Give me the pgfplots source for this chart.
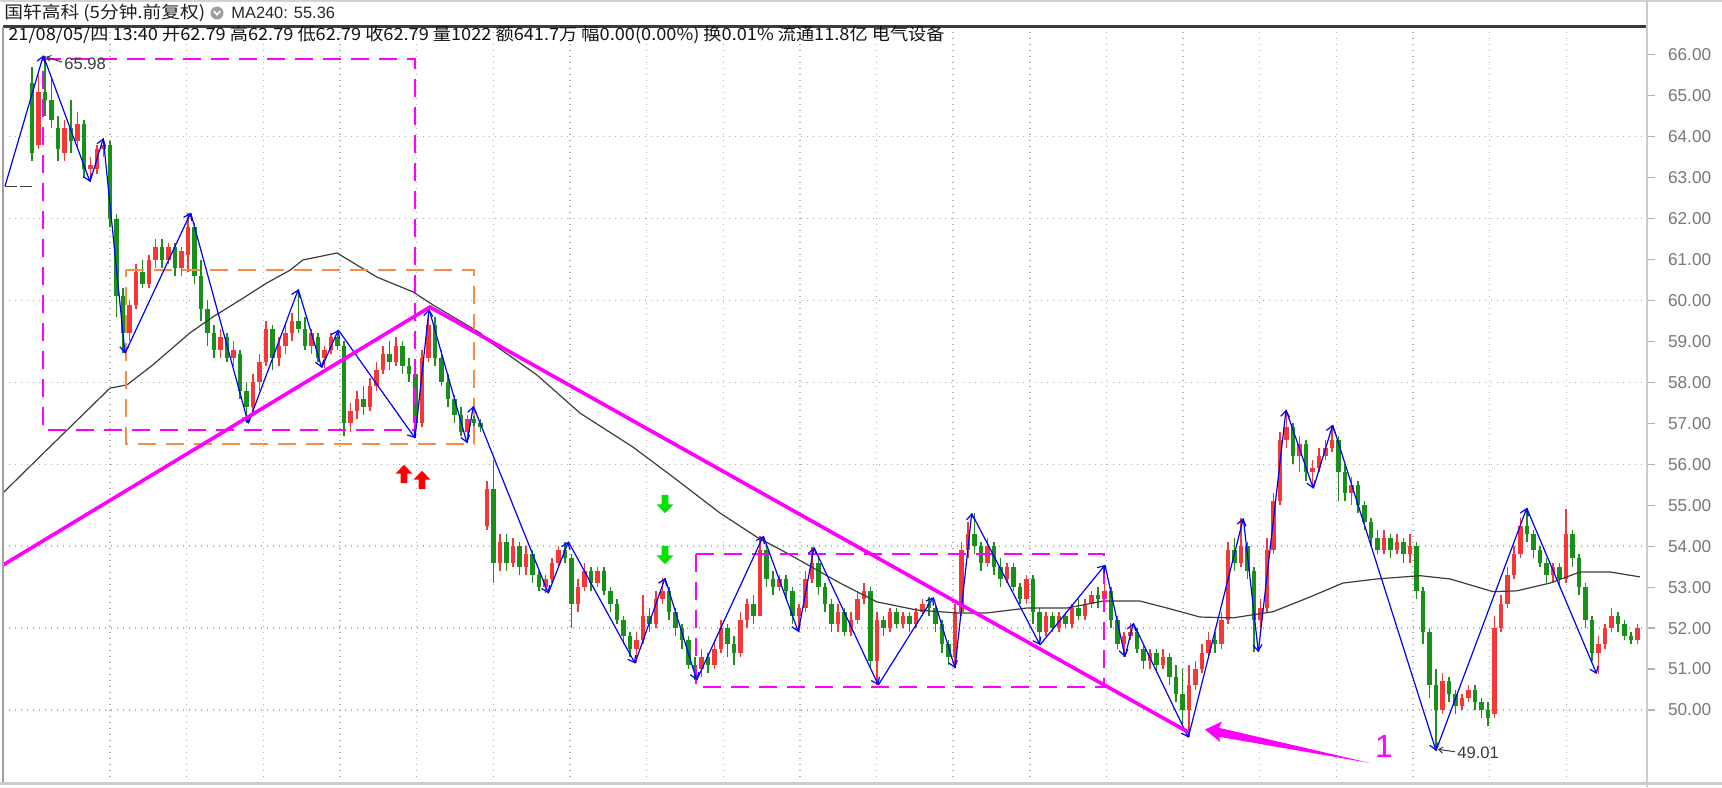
\documentclass[border=0pt]{standalone}
\usepackage{pgfplots}
\pgfplotsset{compat=1.18}
\usepackage{pgfplotstable}
\usetikzlibrary{arrows.meta}
\usepackage{fontspec}
\setmainfont{Liberation Sans}
\newfontfamily\cjk{Noto Sans CJK SC}
\definecolor{cred}{RGB}{245,55,55}
\definecolor{cgreen}{RGB}{25,145,25}
\definecolor{zzblue}{RGB}{0,0,255}
\definecolor{mag}{RGB}{255,0,255}
\definecolor{orng}{RGB}{250,140,70}
\definecolor{gridc}{RGB}{175,175,175}
\definecolor{matc}{RGB}{60,60,60}
\definecolor{sigred}{RGB}{255,0,0}
\definecolor{siggreen}{RGB}{0,225,0}

\pgfdeclareplotmark{uarr}{%
 \pgfpathmoveto{\pgfqpoint{0pt}{4.6pt}}%
 \pgfpathlineto{\pgfqpoint{4.2pt}{0.2pt}}%
 \pgfpathlineto{\pgfqpoint{1.7pt}{0.2pt}}%
 \pgfpathlineto{\pgfqpoint{1.7pt}{-4.6pt}}%
 \pgfpathlineto{\pgfqpoint{-1.7pt}{-4.6pt}}%
 \pgfpathlineto{\pgfqpoint{-1.7pt}{0.2pt}}%
 \pgfpathlineto{\pgfqpoint{-4.2pt}{0.2pt}}%
 \pgfpathclose\pgfusepathqfill}
\pgfdeclareplotmark{darr}{%
 \pgfpathmoveto{\pgfqpoint{0pt}{-4.6pt}}%
 \pgfpathlineto{\pgfqpoint{4.2pt}{-0.2pt}}%
 \pgfpathlineto{\pgfqpoint{1.7pt}{-0.2pt}}%
 \pgfpathlineto{\pgfqpoint{1.7pt}{4.6pt}}%
 \pgfpathlineto{\pgfqpoint{-1.7pt}{4.6pt}}%
 \pgfpathlineto{\pgfqpoint{-1.7pt}{-0.2pt}}%
 \pgfpathlineto{\pgfqpoint{-4.2pt}{-0.2pt}}%
 \pgfpathclose\pgfusepathqfill}

\pgfplotstableread{
o h l c
65.3 65.7 63.4 63.6
63.8 65.5 63.7 65.1
65.1 65.98 64.5 64.9
64.9 65.4 64.2 64.4
64.2 64.5 63.4 63.7
63.6 64.4 63.4 64.2
64.2 64.9 63.6 63.9
63.9 64.6 63.7 64.3
64.3 64.4 63.0 63.2
63.2 63.5 62.90 63.3
63.2 63.8 63.1 63.7
63.7 63.96 63.5 63.8
63.8 63.9 61.8 62.0
62.0 62.1 59.6 60.1
60.1 60.3 58.71 59.2
59.2 60.0 59.0 59.9
59.9 60.9 59.8 60.7
60.7 61.0 60.3 60.4
60.4 61.1 60.3 61.0
61.0 61.5 60.8 61.3
61.3 61.5 60.8 61.0
61.0 61.4 60.9 61.3
61.3 61.4 60.6 60.8
60.8 61.3 60.6 61.2
61.1 62.14 60.7 61.8
61.8 61.9 60.4 60.6
60.6 61.0 59.5 59.8
59.8 60.0 58.9 59.2
59.2 59.4 58.6 58.8
58.8 59.3 58.6 59.1
59.1 59.2 58.5 58.6
58.6 59.0 58.4 58.8
58.7 58.8 57.6 57.8
57.8 58.0 57.00 57.4
57.4 58.2 57.3 58.0
58.0 58.7 57.8 58.5
58.5 59.5 58.4 59.3
59.3 59.4 58.3 58.6
58.6 59.1 58.4 58.9
58.9 59.4 58.7 59.2
59.2 59.7 59.0 59.5
59.5 60.27 59.2 59.3
59.3 59.6 58.8 58.9
58.9 59.3 58.7 59.2
59.1 59.2 58.5 58.6
58.6 58.9 58.36 58.8
58.8 59.2 58.7 59.1
59.1 59.28 58.8 58.9
58.9 59.0 56.7 57.0
57.0 57.5 56.8 57.3
57.3 57.8 57.1 57.6
57.6 57.9 57.2 57.4
57.4 58.1 57.3 57.9
57.9 58.5 57.8 58.3
58.3 58.9 58.2 58.7
58.7 59.0 58.3 58.5
58.5 59.1 58.4 58.9
58.9 59.0 58.2 58.4
58.4 58.6 58.0 58.2
58.2 58.3 56.64 57.0
57.0 58.8 56.9 58.6
58.6 59.79 58.5 59.4
59.4 59.6 58.4 58.6
58.6 58.8 57.9 58.0
58.0 58.2 57.4 57.6
57.6 57.7 57.0 57.2
57.2 57.4 56.7 56.8
56.8 57.2 56.52 57.1
57.1 57.42 56.9 57.0
57.0 57.1 56.8 56.9
54.5 55.6 54.4 55.4
55.4 56.1 53.1 53.6
53.6 54.3 53.4 54.1
54.1 54.3 53.4 53.6
53.6 54.2 53.5 54.0
54.0 54.1 53.3 53.5
53.5 54.0 53.3 53.8
53.8 53.9 53.1 53.3
53.3 53.4 52.9 53.0
53.0 53.3 52.85 53.2
53.2 53.7 53.1 53.6
53.6 54.0 53.5 53.9
53.9 54.11 53.6 53.7
53.7 53.8 52.0 52.6
52.6 53.2 52.4 53.0
53.0 53.6 52.9 53.4
53.4 53.5 52.9 53.1
53.1 53.5 53.0 53.4
53.4 53.5 52.8 52.9
52.9 53.0 52.4 52.6
52.6 52.7 52.1 52.2
52.2 52.3 51.6 51.8
51.8 51.9 51.3 51.5
51.5 51.9 51.14 51.7
51.7 52.8 51.6 52.3
52.3 52.5 51.9 52.1
52.1 52.9 52.0 52.7
52.7 53.22 52.6 52.9
52.9 53.0 52.2 52.4
52.4 52.5 51.8 52.0
52.0 52.1 51.5 51.7
51.7 51.8 51.0 51.1
51.1 51.3 50.73 51.0
51.0 51.5 50.8 51.3
51.3 51.4 50.9 51.1
51.1 51.7 51.0 51.5
51.5 52.2 51.4 52.0
52.0 52.1 51.3 51.6
51.6 51.8 51.1 51.4
51.4 52.4 51.3 52.2
52.2 52.7 52.0 52.6
52.6 52.8 52.1 52.3
52.3 54.25 52.3 53.9
53.9 54.0 53.0 53.2
53.2 53.4 52.8 53.0
53.0 53.3 52.9 53.2
53.2 53.3 52.7 52.9
52.9 53.0 52.1 52.3
52.3 52.6 51.91 52.5
52.5 53.4 52.4 53.2
53.2 53.97 53.1 53.6
53.6 53.7 52.8 53.0
53.0 53.1 52.4 52.6
52.6 52.7 51.9 52.1
52.1 52.6 51.9 52.4
52.4 52.5 51.8 51.9
51.9 52.4 51.8 52.2
52.2 52.9 52.1 52.7
52.7 53.1 52.6 52.9
52.9 53.0 51.0 51.2
51.2 52.4 50.61 52.2
52.2 52.3 51.8 52.0
52.0 52.5 51.9 52.4
52.4 52.5 52.0 52.1
52.1 52.4 52.0 52.3
52.3 52.4 51.9 52.1
52.1 52.5 52.0 52.4
52.4 52.7 52.3 52.6
52.6 52.75 52.3 52.5
52.5 52.6 51.9 52.1
52.1 52.2 51.4 51.6
51.6 51.7 51.1 51.3
51.3 52.6 51.02 52.4
52.4 54.1 52.3 53.9
53.9 54.6 53.7 54.3
54.3 54.80 53.8 54.0
54.0 54.1 53.4 53.6
53.6 54.2 53.5 54.0
54.0 54.1 53.3 53.5
53.5 53.7 53.0 53.2
53.2 53.6 53.1 53.5
53.5 53.6 52.9 53.0
53.0 53.1 52.6 52.7
52.7 53.3 52.6 53.2
53.2 53.3 52.1 52.4
52.4 52.5 51.59 51.9
51.9 52.4 51.8 52.3
52.3 52.4 51.9 52.0
52.0 52.4 51.9 52.3
52.3 52.4 52.0 52.1
52.1 52.6 52.0 52.5
52.5 52.7 52.2 52.3
52.3 52.7 52.2 52.6
52.6 52.9 52.5 52.8
52.8 53.0 52.5 52.7
52.7 53.54 52.5 52.9
52.9 53.0 52.0 52.2
52.2 52.3 51.5 51.6
51.6 51.9 51.30 51.8
51.8 52.12 51.7 51.9
51.9 52.0 51.4 51.5
51.5 51.6 51.0 51.2
51.2 51.5 51.0 51.4
51.4 51.5 50.9 51.1
51.1 51.5 51.0 51.3
51.3 51.4 50.6 50.8
50.8 51.1 50.2 50.4
50.4 51.0 49.6 50.0
50.0 51.1 49.33 50.6
50.6 51.2 50.5 51.0
51.0 51.6 50.9 51.4
51.4 51.9 51.3 51.7
51.7 51.9 51.4 51.6
51.6 52.4 51.5 52.2
52.2 54.1 52.1 53.9
53.9 54.2 53.4 53.6
53.6 54.68 53.5 54.0
54.0 54.1 53.2 53.4
53.4 53.5 51.42 52.2
52.2 52.7 51.9 52.5
52.5 54.2 52.4 53.9
53.9 55.3 53.8 55.1
55.1 56.8 55.0 56.6
56.6 57.33 56.4 56.9
56.9 57.0 56.0 56.2
56.2 56.7 55.8 56.5
56.5 56.6 55.6 55.8
55.8 56.1 55.41 55.9
55.9 56.4 55.8 56.2
56.2 56.6 56.1 56.4
56.4 56.96 56.3 56.6
56.6 56.7 55.1 55.8
55.8 56.0 55.1 55.3
55.3 55.7 55.0 55.5
55.5 55.6 54.8 55.0
55.0 55.1 54.4 54.6
54.6 54.7 54.0 54.2
54.2 54.4 53.8 53.9
53.9 54.4 53.8 54.2
54.2 54.3 53.7 53.9
53.9 54.3 53.8 54.1
54.1 54.2 53.6 53.8
53.8 54.3 53.6 54.0
54.0 54.1 52.7 52.9
52.9 53.0 51.6 51.9
51.9 52.0 50.3 50.6
50.6 51.0 49.01 50.0
50.0 50.9 49.9 50.7
50.7 50.8 50.2 50.4
50.4 50.5 49.9 50.1
50.1 50.4 50.0 50.3
50.3 50.6 50.2 50.5
50.5 50.6 50.0 50.2
50.2 50.3 49.8 50.0
50.0 50.2 49.6 49.8
49.9 52.3 49.8 52.0
52.0 52.8 51.9 52.6
52.6 53.5 52.5 53.3
53.3 54.0 53.2 53.8
53.8 54.7 53.7 54.5
54.5 54.93 54.1 54.3
54.3 54.4 53.7 53.9
53.9 54.0 53.5 53.6
53.6 53.7 53.1 53.3
53.3 53.6 53.1 53.5
53.5 53.6 53.0 53.2
53.2 54.9 53.1 54.3
54.3 54.4 53.5 53.7
53.7 53.8 52.8 53.0
53.0 53.1 52.0 52.2
52.2 52.3 51.2 51.4
51.4 51.8 50.88 51.6
51.6 52.1 51.5 52.0
52.0 52.5 51.9 52.3
52.3 52.4 51.9 52.1
52.1 52.2 51.7 51.8
51.8 51.9 51.6 51.7
51.7 52.1 51.6 52.0
}\candles

\pgfplotstableread{
x y x2 y2
5 62.79 43.3 65.98
43.3 65.98 90 62.90
90 62.90 103.3 63.96
103.3 63.96 125 58.71
125 58.71 190.7 62.14
190.7 62.14 248.3 57.00
248.3 57.00 298.3 60.27
298.3 60.27 321.7 58.36
321.7 58.36 338.3 59.28
338.3 59.28 415 56.64
415 56.64 429 59.79
429 59.79 467 56.52
467 56.52 473.3 57.42
473.3 57.42 548.3 52.85
548.3 52.85 568.3 54.11
568.3 54.11 635 51.14
635 51.14 665 53.22
665 53.22 696.7 50.73
696.7 50.73 763.3 54.25
763.3 54.25 798.3 51.91
798.3 51.91 814 53.97
814 53.97 878.3 50.61
878.3 50.61 933.3 52.75
933.3 52.75 955 51.02
955 51.02 971.7 54.80
971.7 54.80 1040 51.59
1040 51.59 1105 53.54
1105 53.54 1125 51.30
1125 51.30 1133.3 52.12
1133.3 52.12 1188.3 49.33
1188.3 49.33 1243.3 54.68
1243.3 54.68 1258.3 51.42
1258.3 51.42 1286 57.33
1286 57.33 1313.3 55.41
1313.3 55.41 1332.7 56.96
1332.7 56.96 1436 49.01
1436 49.01 1526.7 54.93
1526.7 54.93 1596.7 50.88
}\zigzag

\begin{document}
\begin{tikzpicture}
\useasboundingbox (0,0) rectangle (861pt,-393.5pt);
\fill[white] (0,0) rectangle (861pt,-393.5pt);
\begin{axis}[
  at={(1.5pt,-391.5pt)}, anchor=south west,
  scale only axis, width=822pt, height=378.5pt,
  xmin=3, xmax=1647, ymin=48.217, ymax=66.703,
  axis line style={draw=none},
  xtick={110,186.65,263.3,339.95,416.6,493.25,569.9,646.55,723.2,799.85,876.5,953.15,1029.8,1106.45,1183.1,1259.75,1336.4,1413.05,1489.7,1566.35},
  xticklabels={}, xmajorgrids,
  xtick style={draw=none},
  ytick={50,51,...,66}, ytick pos=right, yticklabel pos=right,
  tick align=outside, major tick length=4pt,
  ytick style={draw=gray!60, line width=0.6pt},
  extra y ticks={50,52,...,64}, extra y tick labels={},
  extra y tick style={ymajorgrids=true, major tick length=0pt, ytick style={draw=none}},
  major grid style={draw=gridc, line width=0.7pt, dash pattern=on 0.7pt off 2.3pt},
  yticklabel style={font=\fontsize{8.6}{10}\selectfont, text={rgb,255:red,120;green,120;blue,120}, xshift=3pt,
     /pgf/number format/.cd, fixed, fixed zerofill, precision=2, assume math mode=true},
  clip=true,
]
% candles: red (up)
\addplot[cred, line width=0.6pt, quiver={u=0, v=\thisrow{h}-\thisrow{l}},
  restrict expr to domain={\thisrow{c}-\thisrow{o}}{0:100}]
  table[x expr=32+6.5*\coordindex, y=l]{\candles};
\addplot[cred, line width=2.1pt, quiver={u=0, v=\thisrow{c}-\thisrow{o}},
  restrict expr to domain={\thisrow{c}-\thisrow{o}}{0:100}]
  table[x expr=32+6.5*\coordindex, y=o]{\candles};
% candles: green (down)
\addplot[cgreen, line width=0.6pt, quiver={u=0, v=\thisrow{h}-\thisrow{l}},
  restrict expr to domain={\thisrow{c}-\thisrow{o}}{-100:-0.001}]
  table[x expr=32+6.5*\coordindex, y=l]{\candles};
\addplot[cgreen, line width=2.1pt, quiver={u=0, v=\thisrow{c}-\thisrow{o}},
  restrict expr to domain={\thisrow{c}-\thisrow{o}}{-100:-0.001}]
  table[x expr=32+6.5*\coordindex, y=o]{\candles};
% MA240
\addplot[matc, line width=0.6pt] coordinates {
(3,55.30)(40,56.19)(110,57.86)(127,57.94)(153,58.43)(190,59.21)(213,59.60)(240,60.01)
(267,60.43)(290,60.74)(303,60.99)(337,61.16)(377,60.57)(413,60.21)(433,59.89)(480,59.21)
(487,59.04)(537,58.18)(580,57.25)(633,56.42)(673,55.69)(720,54.81)(757,54.22)(787,53.83)
(840,53.10)(877,52.64)(917,52.44)(957,52.37)(987,52.37)(1027,52.49)(1067,52.49)(1103,52.66)
(1140,52.66)(1167,52.49)(1200,52.27)(1233,52.25)(1273,52.40)(1310,52.76)(1343,53.10)
(1377,53.20)(1420,53.28)(1450,53.20)(1493,52.89)(1517,52.91)(1550,53.10)(1580,53.37)
(1610,53.37)(1640,53.25)};
% dashed marker at the first bar
\addplot[matc, line width=0.6pt, dash pattern=on 6pt off 1.5pt] coordinates {(5,62.79)(33,62.79)};
% dashed boxes
\addplot[mag, line width=0.8pt, dash pattern=on 9pt off 5pt] coordinates {(43,65.90)(415,65.90)(415,56.84)(43,56.84)(43,65.90)};
\addplot[orng, line width=0.8pt, dash pattern=on 9pt off 5pt] coordinates {(126,60.74)(474,60.74)(474,56.50)(126,56.50)(126,60.74)};
\addplot[mag, line width=0.8pt, dash pattern=on 9pt off 5pt] coordinates {(696,53.81)(1104,53.81)(1104,50.56)(696,50.56)(696,53.81)};
% zigzag
\addplot[zzblue, line width=0.6pt, quiver={u=\thisrow{x2}-\thisrow{x}, v=\thisrow{y2}-\thisrow{y},
   every arrow/.append style={-{Straight Barb[length=3pt,width=4.5pt]}}}]
   table[x=x, y=y]{\zigzag};
% trend lines
\addplot[mag, line width=1.8pt] coordinates {(3,53.54)(430,59.84)(1188.3,49.46)};
% pointer arrow
\addplot[fill=mag, draw=none] coordinates {(1205,49.524)(1222,49.719)(1219,49.565)(1370,48.706)(1219,49.346)(1220,49.218)(1205,49.524)};
% signals
\addplot[only marks, mark=uarr, color=sigred] coordinates {(404,55.763)(422,55.617)};
\addplot[only marks, mark=darr, color=siggreen] coordinates {(665,55.03)(665,53.785)};
% labels
\draw[matc, line width=0.5pt, -{Straight Barb[length=2pt,width=3pt]}] (axis cs:62,65.82) -- (axis cs:46,65.95);
\node[anchor=west, inner sep=0pt, text=matc, font=\fontsize{8.3}{10}\selectfont] at (axis cs:64,65.79) {65.98};
\draw[matc, line width=0.5pt, -{Straight Barb[length=2pt,width=3pt]}] (axis cs:1455,48.98) -- (axis cs:1438,49.04);
\node[anchor=west, inner sep=0pt, text=matc, font=\fontsize{8.3}{10}\selectfont] at (axis cs:1457,48.95) {49.01};
\node[text=mag, inner sep=0pt, font=\fontsize{16}{18}\selectfont] at (axis cs:1384,49.10) {1};
\end{axis}
\begin{scope}[x=0.5pt, y=-0.5pt]
\draw[gray!35, line width=0.8pt] (0,1) -- (1722,1);
\draw[matc, line width=1.1pt] (3,26.5) -- (1647,26.5);
\draw[gray!75, line width=1.1pt] (3,26.5) -- (3,783);
\draw[gray!40, line width=1.4pt] (1647,0) -- (1647,787);
\draw[gray!40, line width=1.4pt] (0,783.5) -- (1722,783.5);
\node[anchor=west, inner sep=0pt, text={rgb,255:red,30;green,30;blue,30}] at (4,13) {\scalebox{1.1}[1]{\cjk\fontsize{8.5}{10}\selectfont 国轩高科 (5分钟.前复权)}};
\fill[gray!75] (217,13) circle (6.5);
\draw[white, line width=0.8pt] (213.8,11.2) -- (217,14.6) -- (220.2,11.2);
\node[anchor=west, inner sep=0pt, text={rgb,255:red,40;green,40;blue,40}] at (231,13) {\fontsize{8.2}{10}\selectfont MA240: 55.36};
\node[anchor=west, inner sep=0pt, text={rgb,255:red,20;green,20;blue,20}] at (8,35) {\scalebox{1.07}[1]{\cjk\fontsize{8.5}{10}\selectfont 21/08/05/四 13:40 开62.79 高62.79 低62.79 收62.79 量1022 额641.7万 幅0.00(0.00\%) 换0.01\% 流通11.8亿 电气设备}};
\end{scope}
\end{tikzpicture}
\end{document}
